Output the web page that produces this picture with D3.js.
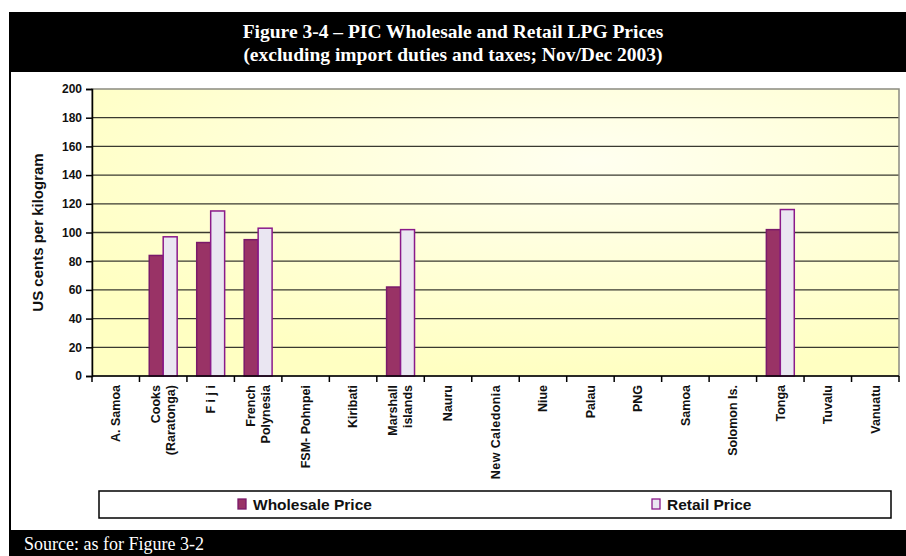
<head>
    <meta charset="utf-8" />
    <script src="https://d3js.org/d3.v7.min.js"></script>
</head>
<style>
    body { margin: 0; background: #fff; }
    text { font-family: "Liberation Sans", Arial, sans-serif; }
</style>
<body>
</body>
<script>
// data
var categories = ["A. Samoa", "Cooks\n(Raratonga)", "F i j i", "French\nPolynesia", "FSM- Pohnpei",
    "Kiribati", "Marshall\nislands", "Nauru", "New Caledonia", "Niue", "Palau", "PNG", "Samoa",
    "Solomon Is.", "Tonga", "Tuvalu", "Vanuatu"];
var seriesNames = ["Wholesale Price", "Retail Price"];
var wholesale = [null, 84, 93, 95, null, null, 62, null, null, null, null, null, null, null, 102, null, null];
var retail = [null, 97, 115, 103, null, null, 102, null, null, null, null, null, null, null, 116, null, null];
var yTicks = [0, 20, 40, 60, 80, 100, 120, 140, 160, 180, 200];
var titleLines = ["Figure 3-4 \u2013 PIC Wholesale and Retail LPG Prices",
    "(excluding import duties and taxes; Nov/Dec 2003)"];
var sourceText = "Source: as for Figure 3-2";

var fills = ["#993366", "#EAE6F2"];
var strokes = ["#7a1a6a", "#8a1a8a"];

var W = 906, H = 556;
var svg = d3.select("body").append("svg").attr("width", W).attr("height", H);

// frame: title band, left rule, source band
svg.append("rect").attr("x", 9).attr("y", 12).attr("width", W - 9).attr("height", 60).attr("fill", "#000");
svg.append("rect").attr("x", 9).attr("y", 72).attr("width", 2).attr("height", 460).attr("fill", "#000");
svg.append("rect").attr("x", 9).attr("y", 530).attr("width", W - 9).attr("height", 26).attr("fill", "#000");

svg.selectAll(".title").data(titleLines).enter().append("text")
    .attr("x", 453).attr("y", function (d, i) { return 38 + i * 23; })
    .attr("text-anchor", "middle")
    .style("font-family", "'Liberation Serif', 'Times New Roman', serif")
    .style("font-weight", "bold").style("font-size", "19.5px")
    .attr("fill", "#fff").text(function (d) { return d; });

svg.append("text").attr("x", 24).attr("y", 550)
    .style("font-family", "'Liberation Serif', 'Times New Roman', serif")
    .style("font-size", "18px").attr("fill", "#fff").text(sourceText);

var plotLeft = 92, plotRight = 899, plotTop = 89, plotBottom = 376;

var defs = svg.append("defs");
var grad = defs.append("radialGradient").attr("id", "bg").attr("cx", "0.62").attr("cy", "0.25").attr("r", "0.75");
grad.append("stop").attr("offset", "0%").attr("stop-color", "#FFFFF0");
grad.append("stop").attr("offset", "100%").attr("stop-color", "#FFFFC2");

var x = d3.scaleBand().domain(categories).range([plotLeft, plotRight]).padding(0);
var x1 = d3.scaleBand().domain(seriesNames).range([0, x.bandwidth()]).paddingInner(0).paddingOuter(0.7);
var y = d3.scaleLinear().domain([0, 200]).range([plotBottom, plotTop]);

svg.append("rect").attr("x", plotLeft).attr("y", plotTop).attr("width", plotRight - plotLeft).attr("height", plotBottom - plotTop)
    .attr("fill", "url(#bg)");

// gridlines
svg.append("g").selectAll("line").data(yTicks.slice(1, -1)).enter().append("line")
    .attr("x1", plotLeft).attr("x2", plotRight)
    .attr("y1", function (d) { return y(d); }).attr("y2", function (d) { return y(d); })
    .attr("stroke", "#3a3a30").attr("stroke-width", 1.3);

svg.append("rect").attr("x", plotLeft).attr("y", plotTop).attr("width", plotRight - plotLeft).attr("height", plotBottom - plotTop)
    .attr("fill", "none").attr("stroke", "#8a8a80").attr("stroke-width", 1.5);

// bars
var series = [wholesale, retail];
series.forEach(function (vals, s) {
    svg.append("g").selectAll("rect")
        .data(categories.map(function (c, i) { return { c: c, v: vals[i] }; }).filter(function (d) { return d.v != null; }))
        .enter().append("rect")
        .attr("x", function (d) { return x(d.c) + x1(seriesNames[s]); })
        .attr("y", function (d) { return y(d.v); })
        .attr("width", x1.bandwidth())
        .attr("height", function (d) { return plotBottom - y(d.v); })
        .attr("fill", fills[s]).attr("stroke", strokes[s]).attr("stroke-width", 1.5);
});

// y axis
var yAxis = svg.append("g").attr("transform", "translate(" + plotLeft + ",0)")
    .call(d3.axisLeft(y).tickValues(yTicks).tickSize(6).tickPadding(4));
yAxis.select(".domain").attr("stroke", "#000").attr("stroke-width", 1.5);
yAxis.selectAll(".tick line").attr("stroke", "#000").attr("stroke-width", 1.5);
yAxis.selectAll("text").style("font-size", "12px").style("font-weight", "bold").attr("fill", "#111");

svg.append("text")
    .attr("transform", "translate(38," + ((plotTop + plotBottom) / 2) + ") rotate(-90)")
    .attr("text-anchor", "middle").attr("dy", "0.35em")
    .style("font-size", "15px").style("font-weight", "bold").attr("fill", "#111")
    .text("US cents per kilogram");

// x axis
var xg = svg.append("g").attr("transform", "translate(0," + plotBottom + ")");
xg.append("line").attr("x1", plotLeft).attr("x2", plotRight).attr("stroke", "#000").attr("stroke-width", 1.5);
xg.selectAll(".xtick").data(categories.concat(["__end"])).enter().append("line")
    .attr("x1", function (d, i) { return plotLeft + i * x.step(); })
    .attr("x2", function (d, i) { return plotLeft + i * x.step(); })
    .attr("y1", 0).attr("y2", 6).attr("stroke", "#000").attr("stroke-width", 1.5);

var labels = svg.append("g").selectAll("text").data(categories).enter().append("text")
    .attr("transform", function (d) { return "translate(" + (x(d) + x.bandwidth() / 2) + ",385) rotate(-90)"; })
    .attr("text-anchor", "end")
    .style("font-size", "12.5px").style("font-weight", "bold").attr("fill", "#111")
    .style("letter-spacing", function (d) { return d === "New Caledonia" ? "0.4px" : null; });
labels.each(function (d) {
    var lines = d.split("\n");
    var t = d3.select(this);
    lines.forEach(function (ln, k) {
        var off = (k - (lines.length - 1) / 2) * 15;
        t.append("tspan").attr("x", 0).attr("y", off).attr("dy", "0.35em").text(ln);
    });
});

// legend
var lg = svg.append("g");
lg.append("rect").attr("x", 99).attr("y", 491).attr("width", 792).attr("height", 27)
    .attr("fill", "#fff").attr("stroke", "#000").attr("stroke-width", 1.5);
var legendX = [238, 652];
seriesNames.forEach(function (n, s) {
    lg.append("rect").attr("x", legendX[s]).attr("y", 499).attr("width", 8).attr("height", 10)
        .attr("fill", fills[s]).attr("stroke", strokes[s]).attr("stroke-width", 1.3);
    lg.append("text").attr("x", legendX[s] + 15).attr("y", 505).attr("dy", "0.35em")
        .style("font-size", "15.5px").style("font-weight", "bold").attr("fill", "#111").text(n);
});
</script>
